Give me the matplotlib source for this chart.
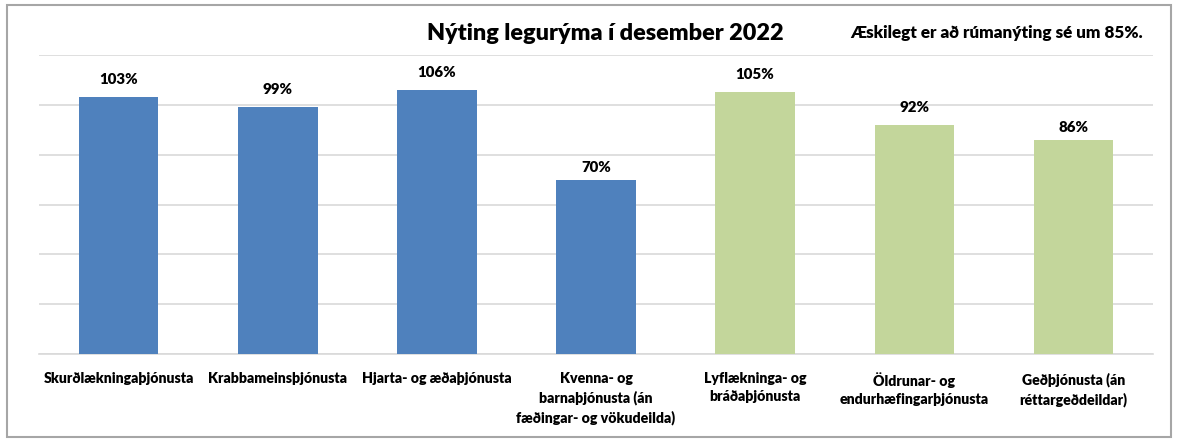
import matplotlib.pyplot as plt
from matplotlib.patches import Rectangle

plt.rcParams['font.family'] = ['Lato', 'DejaVu Sans']

categories = ["Skurðlækningaþjónusta", "Krabbameinsþjónusta", "Hjarta- og æðaþjónusta",
              "Kvenna- og\nbarnaþjónusta (án\nfæðingar- og vökudeilda)",
              "Lyflækninga- og\nbráðaþjónusta", "Öldrunar- og\nendurhæfingarþjónusta",
              "Geðþjónusta (án\nréttargeðdeildar)"]
values = [103, 99, 106, 70, 105, 92, 86]
colors = ["#4F81BD"] * 4 + ["#C3D69B"] * 3
# labels were nudged by hand in the original
label_gap = [4.5, 4.5, 4.5, 2.3, 4.5, 4.5, 2.3]

fig = plt.figure(figsize=(11.79, 4.41), dpi=100)
ax = fig.add_axes([39/1179, 1 - 354/441, (1153 - 39)/1179, (354 - 55)/441])

x = range(len(categories))
ax.bar(x, values, width=0.5, color=colors, zorder=3)
for i, v in enumerate(values):
    ax.text(i, v + label_gap[i], f"{v}%", ha='center', va='bottom', fontsize=10.8, fontweight='heavy')

ax.set_xlim(-0.5, len(categories) - 0.5)
ax.set_ylim(0, 120)
ax.set_yticks(range(0, 121, 20))
ax.yaxis.grid(True, color="#D9D9D9", linewidth=1.2, zorder=0)
ax.tick_params(axis='y', left=False, labelleft=False)
ax.tick_params(axis='x', length=0, pad=13)
ax.set_xticks(list(x))
ax.set_xticklabels(categories, fontsize=10.2, fontweight='heavy', va='top', linespacing=1.45)
for s in ['top', 'right', 'left']:
    ax.spines[s].set_visible(False)
ax.spines['bottom'].set_color("#D9D9D9")
ax.spines['bottom'].set_linewidth(1.2)

fig.text(605/1179, 1 - 33/441, "Nýting legurýma í desember 2022", ha='center', va='center',
         fontsize=16.8, fontweight='heavy')
fig.text(1143/1179, 1 - 33/441, "Æskilegt er að rúmanýting sé um 85%.", ha='right', va='center',
         fontsize=12.3, fontweight='heavy')

fig.patches.append(Rectangle((7/1179, 1 - 437/441), (1171 - 7)/1179, (437 - 5)/441,
                             transform=fig.transFigure, fill=False, edgecolor="#A6A6A6",
                             linewidth=1.5))

fig.savefig("out.png", dpi=100)
